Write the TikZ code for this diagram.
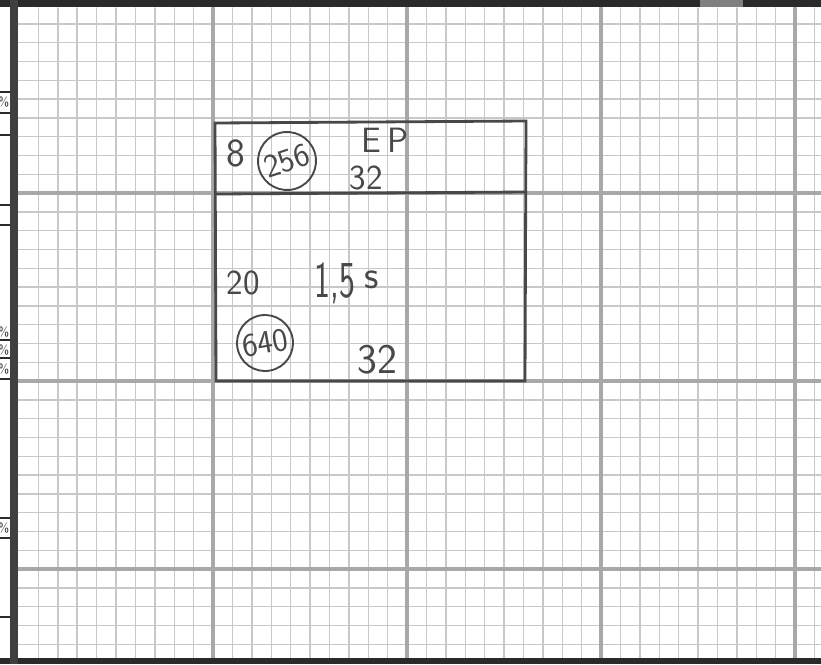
\documentclass[tikz,border=0pt]{standalone}
\usepackage{tikz}
\definecolor{pencil}{HTML}{484848}
\definecolor{gridminor}{HTML}{c8c8c8}
\definecolor{gridmajor}{HTML}{a8a8a8}
\definecolor{edge}{HTML}{2a2a2a}
\newcommand{\px}{0.03cm}
\tikzset{
  hand/.style={font=\sffamily\fontsize{#1}{#1}\selectfont,text=pencil,inner sep=0},
  ring/.style={draw=pencil,circle,line width=1.6pt,inner sep=0,minimum size=#1*\px},
  margin/.style={font=\sffamily\fontsize{11}{11}\selectfont,text=edge,inner sep=0}
}
\begin{document}
\begin{tikzpicture}[x=\px,y=-\px,line cap=round]
    \useasboundingbox(0,0)rectangle(821,664);
    \fill[white](0,0)rectangle(821,664);
    % graph paper
    \foreach \i in {-9,...,31}\draw[gridminor,line width=1.2pt](213+19.4*\i,8)--(213+19.4*\i,658);
    \foreach \j in {-9,...,24}\draw[gridminor,line width=1.2pt](18,193+18.8*\j)--(821,193+18.8*\j);
    \foreach \x in {213,407,601,795}\draw[gridmajor,line width=2.6pt](\x,8)--(\x,658);
    \foreach \y in {193,381,569}\draw[gridmajor,line width=2.6pt](18,\y)--(821,\y);
    % scan edges
    \fill[edge](0,0)rectangle(821,7);
    \fill[gray](700,0)rectangle(743,7);
    \fill[edge](0,658)rectangle(821,664);
    \fill[edge!90](10,0)rectangle(18,664);
    \foreach \y in {92,113,135,205,225,340,358,379,518,538,617}\draw[edge,line width=1pt](0,\y)--(10,\y);
    \foreach \y/\n in {102/a,332/b,350/c,369/d,528/e}\node[margin](m\n)at(4,\y){\%};
    % sketch
    \coordinate(tl)at(215,123);
    \coordinate(tr)at(526,121);
    \coordinate(ml)at(216,194);
    \coordinate(mr)at(526,192);
    \coordinate(bl)at(216,381);
    \coordinate(br)at(525,381);
    \draw[pencil,line width=2.4pt](tl)--(tr)--(br)--(bl)--cycle;
    \draw[pencil,line width=2.4pt](ml)--(mr);
    \node[hand=34](eight)at(236,153){8};
    \node[ring=58,rotate=18,hand=28](ep-area)at(287,161){256};
    \node[hand=30](ep)at(385,140){E\,P};
    \node[hand=30](ep-side)at(366,178){32};
    \node[hand=30](ss-count)at(243,283){20};
    \node[hand=34](ss)at(347,283){\scalebox{0.85}[1.3]{1,5}\hspace{8pt}\raisebox{7pt}{s}};
    \node[ring=56,rotate=10,hand=28](ss-area)at(265,343){640};
    \node[hand=36](ss-side)at(377,360){32};
\end{tikzpicture}
\end{document}
